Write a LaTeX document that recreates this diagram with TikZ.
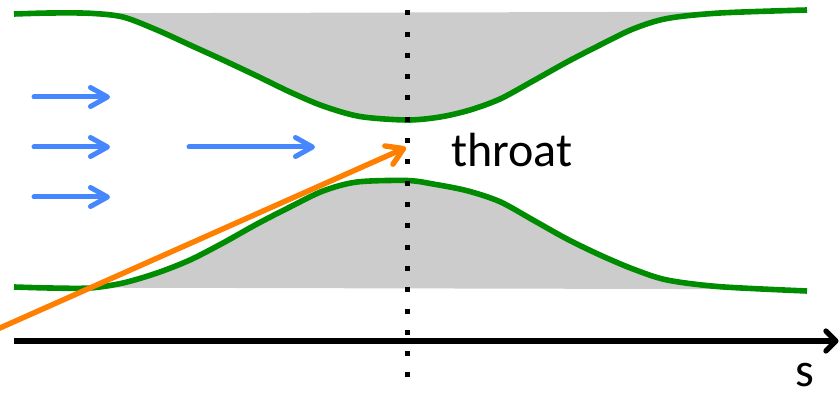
\documentclass[tikz,border=0pt]{standalone}
\usepackage{fontspec}
\setmainfont{Carlito}
\usetikzlibrary{arrows.meta}
\definecolor{wallgreen}{RGB}{0,140,0}
\definecolor{flowblue}{RGB}{70,134,255}
\definecolor{rayorange}{RGB}{255,128,0}
\definecolor{wallgray}{RGB}{204,204,204}
\tikzset{
  wall/.style={draw=wallgreen, line width=5.6pt},
  wallfill/.style={fill=wallgray},
  flow/.style={draw=flowblue, line width=5pt, line cap=round, -{Straight Barb[length=17pt,width=19pt,round]}},
  ray/.style={draw=rayorange, line width=5.4pt, -{Straight Barb[length=16pt,width=20pt,round]}},
  axisline/.style={draw=black, line width=5.2pt, -{Straight Barb[length=10pt,width=20pt,round]}},
  dotline/.style={draw=black, line width=5pt, dash pattern=on 5pt off 16.31pt},
  label/.style={inner sep=0pt, font=\fontsize{48}{56}\selectfont}
}
\def\uppercurve{(14,14) (50,13) (90,13.3) (123,17) (157,30) (190,45) (223,60) (257,76) (290,92) (323,106) (360,116.5) (407,120) (440,117) (470,110) (500,99) (533,81) (567,62) (600,45) (633,29) (667,18.5) (720,13) (807,10)}
\def\lowercurve{(14,287) (50,288) (90,288) (123,283) (157,273) (190,260) (223,243) (257,224) (290,207) (323,191) (357,182) (407,180.5) (433,184) (467,190.7) (500,201.7) (533,220) (567,239) (600,255) (633,269) (667,280) (720,286.7) (807,291)}
\begin{document}
\begin{tikzpicture}[x=1pt,y=-1pt]
\useasboundingbox (0,0) rectangle (839,393);
\clip (0,0) rectangle (839,393);
% grey wall regions
\fill[wallfill] plot[smooth] coordinates {\uppercurve} -- (807,11.5) -- (14,13.5) -- cycle;
\fill[wallfill] plot[smooth] coordinates {\lowercurve} -- (807,289.3) -- (14,287.5) -- cycle;
% green walls
\draw[wall] plot[smooth] coordinates {\uppercurve};
\draw[wall] plot[smooth] coordinates {\lowercurve};
% coordinates
\coordinate (b1s) at (34,97);  \coordinate (b1e) at (110,97);
\coordinate (b2s) at (34,147); \coordinate (b2e) at (110,147);
\coordinate (b3s) at (34,197); \coordinate (b3e) at (110,197);
\coordinate (b4s) at (189,147); \coordinate (b4e) at (315,147);
\coordinate (rs) at (-12,333.3); \coordinate (re) at (406,147.5);
\coordinate (as) at (14,341); \coordinate (ae) at (838.5,341);
\coordinate (dtop) at (407,10.2); \coordinate (dbot) at (407,378);
% flow arrows
\draw[flow] (b1s) -- (b1e);
\draw[flow] (b2s) -- (b2e);
\draw[flow] (b3s) -- (b3e);
\draw[flow] (b4s) -- (b4e);
% axis
\draw[axisline] (as) -- (ae);
% throat dotted line
\draw[dotline] (dtop) -- (dbot);
% orange ray
\draw[ray] (rs) -- (re);
% labels
\node[label, anchor=base west] (throat) at (451,167) {throat};
\node[label, anchor=base] (s) at (805,386) {s};
\end{tikzpicture}
\end{document}
